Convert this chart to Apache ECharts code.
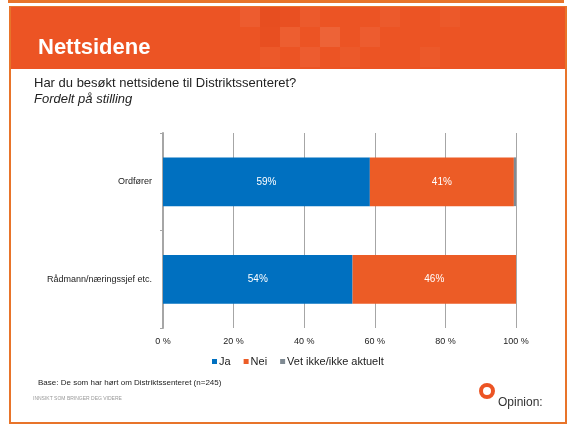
<!DOCTYPE html>
<html>
<head>
<meta charset="utf-8">
<script src="https://cdn.jsdelivr.net/npm/echarts@6/dist/echarts.min.js"></script>
<style>
    html, body { margin: 0; padding: 0; background: #fff; }
    #main { width: 569px; height: 425px; }
</style>
</head>
<body>
<div id="main"></div>
<script type="text/javascript">
    // data
    var categories = ['Ordfører', 'Rådmann/næringssjef etc.'];
    var ja = [58.6, 53.7];
    var nei = [40.8, 46.3];
    var vetIkke = [0.6, 0];
    var tickLabels = ['0 %', '20 %', '40 %', '60 %', '80 %', '100 %'];

    var myChart = echarts.init(document.getElementById('main'));

    var FONT = 'Liberation Sans, Arial, sans-serif';

    function pctLabel(p) {
        return p.value >= 3 ? Math.round(p.value) + '%' : '';
    }

    // slide frame, header and footer
    var graphics = [
        { type: 'rect', shape: { x: 8, y: 0, width: 556, height: 3 }, style: { fill: '#e8742a' } },
        { type: 'rect', shape: { x: 10, y: 7, width: 556, height: 416 }, style: { fill: '#fff', stroke: '#e8742a', lineWidth: 2 } },
        { type: 'rect', shape: { x: 11, y: 7, width: 554, height: 62 }, style: { fill: '#ec5424' } }
    ];
    // faint checker texture in the header
    var tiles = [
        [240, 7, 0.05], [280, 27, 0.06], [300, 7, 0.04], [320, 27, 0.09],
        [300, 47, 0.05], [340, 47, 0.03], [360, 27, 0.05], [380, 7, 0.04],
        [420, 47, 0.03], [440, 7, 0.03], [260, 47, 0.03]
    ];
    tiles.forEach(function (t) {
        graphics.push({ type: 'rect', shape: { x: t[0], y: t[1], width: 20, height: 20 }, style: { fill: 'rgba(255,255,255,' + t[2] + ')' } });
    });
    graphics.push(
        { type: 'rect', shape: { x: 260, y: 7, width: 20, height: 20 }, style: { fill: 'rgba(200,40,10,0.12)' } },
        { type: 'rect', shape: { x: 280, y: 7, width: 20, height: 20 }, style: { fill: 'rgba(200,40,10,0.08)' } },
        { type: 'rect', shape: { x: 260, y: 27, width: 20, height: 20 }, style: { fill: 'rgba(200,40,10,0.10)' } },
        { type: 'text', left: 38, top: 37, style: { text: 'Nettsidene', fill: '#fff', font: 'bold 22px ' + FONT } },
        { type: 'text', left: 34, top: 77, style: { text: 'Har du besøkt nettsidene til Distriktssenteret?', fill: '#222', font: '13px ' + FONT } },
        { type: 'text', left: 34, top: 93, style: { text: 'Fordelt på stilling', fill: '#222', font: 'italic 13px ' + FONT } },
        { type: 'text', left: 38, top: 379, style: { text: 'Base: De som har hørt om Distriktssenteret (n=245)', fill: '#222', font: '8px ' + FONT } },
        { type: 'text', left: 33, top: 396, style: { text: 'INNSIKT SOM BRINGER DEG VIDERE', fill: '#999', font: '5px ' + FONT } },
        { type: 'circle', shape: { cx: 487, cy: 391, r: 6 }, style: { fill: 'none', stroke: '#ec5424', lineWidth: 4 } },
        { type: 'text', left: 498, top: 397, style: { text: 'Opinion:', fill: '#333', font: '12px ' + FONT } }
    );

    var option = {
        animation: false,
        textStyle: { fontFamily: FONT },
        color: ['#0070c0', '#ec5c26', '#7f8a93'],
        graphic: graphics,
        grid: { left: 163, right: 53, top: 133, bottom: 97 },
        legend: {
            data: ['Ja', 'Nei', 'Vet ikke/ikke aktuelt'],
            top: 351,
            left: 207,
            itemWidth: 5,
            itemHeight: 5,
            itemGap: 13,
            icon: 'rect',
            textStyle: { fontSize: 11, color: '#222', padding: [0, 0, 0, -3] }
        },
        xAxis: {
            type: 'value',
            min: 0,
            max: 100,
            interval: 20,
            axisLine: { show: false },
            axisTick: { show: false },
            splitLine: { lineStyle: { color: '#a6a6a6', width: 1 } },
            axisLabel: {
                fontSize: 9,
                color: '#222',
                margin: 9,
                formatter: function (v) { return tickLabels[v / 20]; }
            }
        },
        yAxis: {
            type: 'category',
            data: categories,
            inverse: true,
            axisLine: { lineStyle: { color: '#a6a6a6', width: 2 } },
            axisTick: { show: true, length: 3, lineStyle: { color: '#a6a6a6' } },
            axisLabel: { fontSize: 9, color: '#222', margin: 11 }
        },
        series: [
            {
                name: 'Ja', type: 'bar', stack: 's', data: ja, barWidth: '50%',
                label: { show: true, position: 'inside', color: '#fff', fontSize: 10, formatter: pctLabel }
            },
            {
                name: 'Nei', type: 'bar', stack: 's', data: nei, barWidth: '50%',
                label: { show: true, position: 'inside', color: '#fff', fontSize: 10, formatter: pctLabel }
            },
            {
                name: 'Vet ikke/ikke aktuelt', type: 'bar', stack: 's', data: vetIkke, barWidth: '50%',
                label: { show: false }
            }
        ]
    };

    myChart.setOption(option);
</script>
</body>
</html>
